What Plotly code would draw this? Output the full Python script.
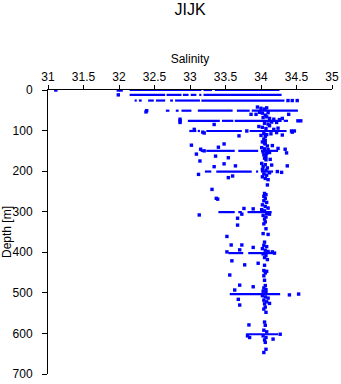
import plotly.graph_objects as go

# ---- standard-depth rows: dense runs of samples (salinity start, end) ----
row_depth = [0, 12, 26, 51, 76, 101, 150, 201, 301, 402, 503, 602]
row_runs = [
    [(32.15, 33.16), (33.19, 33.31), (33.35, 34.26)],
    [(32.15, 32.65), (32.67, 32.88), (32.90, 32.98), (33.01, 33.09), (33.13, 33.16), (33.19, 34.29)],
    [(32.22, 32.25), (32.28, 32.32), (32.41, 32.49), (32.52, 32.65), (32.72, 32.76), (32.79, 33.14), (33.16, 34.33)],
    [(32.66, 32.71), (32.80, 32.84), (32.88, 33.02), (33.11, 33.60), (33.66, 33.84), (33.87, 34.52)],
    [(32.97, 33.42), (33.45, 33.61), (33.63, 34.29), (34.32, 34.38)],
    [(32.99, 33.09), (33.11, 33.14), (33.23, 33.73), (33.84, 34.36)],
    [(33.15, 33.21), (33.23, 33.63), (33.68, 33.96), (34.00, 34.24)],
    [(33.21, 33.30), (33.37, 33.87), (33.93, 33.96), (34.00, 34.17)],
    [(33.40, 33.63), (33.68, 33.73), (33.81, 34.15)],
    [(33.54, 33.75), (33.82, 34.19)],
    [(33.56, 34.27)],
    [(33.79, 34.24)],
]

# ---- isolated samples ----
pt_sal = [31.11, 31.99, 32.03, 31.99,
          34.38, 34.44, 34.51,
          32.39, 32.38, 32.86, 32.86, 32.86,
          34.52, 34.56, 33.86, 34.39, 33.34, 33.69, 34.30, 34.44, 33.06, 33.18, 33.20,
          33.80, 34.43, 34.47,
          33.02, 33.15, 33.20, 33.40, 33.48, 33.09, 33.36, 33.54, 34.16, 34.24, 34.34, 34.36,
          33.14, 33.34, 33.48, 33.64, 33.12, 33.54, 33.60, 34.23, 34.29, 34.37, 34.15, 34.13,
          33.31, 33.37,
          33.13, 33.39, 33.67, 33.67, 33.52, 33.58, 33.73, 33.76, 33.73, 33.89,
          33.89, 33.56, 33.77, 33.96, 33.59, 33.52, 33.70, 34.19, 34.16,
          33.68, 33.70, 33.63, 33.70, 33.89, 34.12, 34.40, 34.53,
          33.83, 33.81, 33.84, 34.17, 34.27]
pt_depth = [0, 0, 0, 12,
            26, 26, 26,
            51, 54, 76, 72, 80,
            76, 76, 60, 60, 85, 113, 111, 104, 97, 104, 106,
            101, 101, 101,
            136, 146, 150, 141, 133, 158, 163, 167, 137, 144, 146, 155,
            175, 189, 182, 187, 208, 216, 212, 201, 203, 187, 185, 171,
            245, 267,
            308, 269, 316, 333, 361, 382, 382, 292, 306, 293,
            388, 456, 431, 427, 421, 399, 394, 402, 399,
            516, 530, 493, 481, 485, 526, 505, 503,
            579, 606, 610, 614, 602]

# ---- samples of the near-uniform deep water column ----
col_sal = [33.95, 34.00, 34.05, 33.98, 34.02, 34.08, 34.10, 33.93, 34.06,
           34.03, 34.08, 34.12, 34.18, 34.22, 34.05, 34.10, 34.15, 34.26, 34.30,
           33.97, 34.02, 34.07, 34.12, 34.18, 34.22, 34.04, 34.08, 34.14, 34.24, 34.00, 34.06,
           34.04, 34.06, 34.05,
           34.02, 34.06, 34.09, 34.01, 34.05, 34.10, 34.03, 34.08, 34.12, 34.04, 34.07,
           34.05, 34.07,
           34.01, 34.06, 34.03, 34.09, 34.02, 34.07, 34.12, 34.04, 34.08, 34.02, 34.06, 34.10,
           34.09, 34.05, 34.07, 34.04, 34.06,
           34.04, 34.08, 34.02, 34.06, 34.10, 34.01, 34.05, 34.08, 34.12, 34.03, 34.07, 34.05,
           34.06, 34.04, 34.07, 34.03, 34.10, 34.05,
           34.04, 34.08, 34.02, 34.06, 34.10, 34.03, 34.07, 34.05, 34.09,
           34.05, 34.04, 34.08, 34.06, 34.04, 34.05, 34.06, 34.04, 34.07,
           34.03, 34.07, 34.02, 34.06, 34.10, 34.04, 34.08, 34.05, 34.06, 34.04, 34.07,
           34.05, 34.06,
           34.04, 34.08, 34.03, 34.07, 34.05, 34.06,
           34.07, 34.04]
col_depth = [42, 45, 47, 55, 57, 44, 56, 60, 62,
             68, 66, 70, 72, 80, 82, 84, 79, 73, 70,
             90, 92, 95, 88, 97, 105, 107, 110, 108, 94, 112, 115,
             121, 125, 131,
             128, 133, 138, 142, 145, 147, 153, 156, 154, 160, 164,
             168, 172,
             181, 184, 189, 192, 196, 198, 204, 207, 210, 214, 218, 221,
             234, 255, 258, 262, 267,
             273, 277, 283, 287, 291, 295, 298, 304, 306, 309, 313, 318,
             325, 330, 342, 354, 356, 375,
             383, 386, 391, 395, 398, 404, 408, 413, 418,
             432, 445, 447, 451, 458, 469, 482, 488, 492,
             496, 499, 507, 510, 513, 518, 522, 527, 535, 540, 548,
             572, 580,
             592, 596, 606, 610, 616, 622,
             639, 647]

x_ticks = [31, 31.5, 32, 32.5, 33, 33.5, 34, 34.5, 35]
y_ticks = [0, 100, 200, 300, 400, 500, 600, 700]

BLUE = "#0000ff"
FONT = "Liberation Sans, Arial, Helvetica, sans-serif"

run_x, run_y = [], []
for d, runs in zip(row_depth, row_runs):
    for a, b in runs:
        run_x += [a, b, None]
        run_y += [d, d, None]

fig = go.Figure()
fig.add_trace(go.Scatter(x=run_x, y=run_y, mode="lines",
                         line=dict(color=BLUE, width=2.2), hoverinfo="skip"))
fig.add_trace(go.Scatter(x=pt_sal + col_sal, y=pt_depth + col_depth, mode="markers",
                         marker=dict(symbol="square", size=3.4, color=BLUE,
                                     line=dict(width=0))))

fig.update_layout(
    width=341, height=384,
    margin=dict(l=48, r=9, t=90, b=10, autoexpand=False),
    paper_bgcolor="white", plot_bgcolor="white",
    showlegend=False,
    font=dict(family=FONT, size=12, color="black"),
    title=dict(text="JIJK", x=0.5, xref="paper", xanchor="center",
               y=1 - 9 / 384, yanchor="middle", yref="container",
               font=dict(size=16, family=FONT, color="black")),
    xaxis=dict(side="top", range=[31, 35], tickvals=x_ticks,
               ticktext=[f"{v:g}" for v in x_ticks],
               ticks="outside", ticklen=4, tickcolor="black", tickwidth=1,
               showline=True, linecolor="black", linewidth=1,
               showgrid=False, zeroline=False, mirror=False,
               automargin=False, ticklabelstandoff=-1,
               title=dict(text="Salinity", standoff=4, font=dict(size=12))),
    yaxis=dict(range=[700, 0], tickvals=y_ticks,
               ticks="outside", ticklen=5, tickcolor="black", tickwidth=1,
               showline=True, linecolor="black", linewidth=1,
               showgrid=False, zeroline=False, mirror=False,
               automargin=False, ticklabelstandoff=7,
               title=dict(text="Depth [m]", standoff=5, font=dict(size=12))),
)

fig.write_html("out.html")
